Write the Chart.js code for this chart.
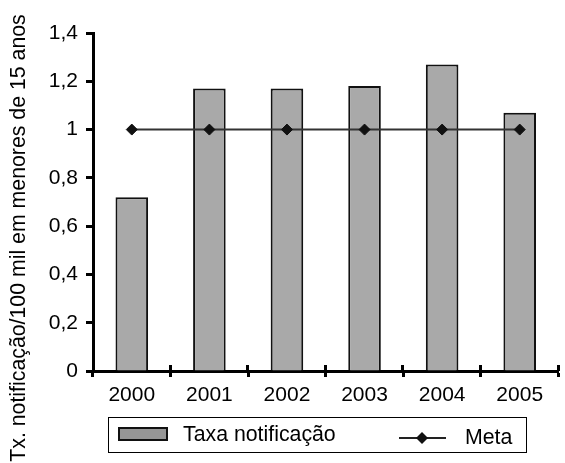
<!DOCTYPE html>
<html>
<head>
<meta charset="utf-8">
<script src="https://cdn.jsdelivr.net/npm/chart.js@4.4.1/dist/chart.umd.min.js"></script>
<style>
  html, body { margin: 0; padding: 0; background: #fff; }
</style>
</head>
<body>
<canvas id="chart" width="565" height="463"></canvas>
<script>
// data
const years = ["2000", "2001", "2002", "2003", "2004", "2005"];
const taxa = [0.72, 1.17, 1.17, 1.18, 1.27, 1.07];
const meta = [1, 1, 1, 1, 1, 1];
const yTicks = [0, 0.2, 0.4, 0.6, 0.8, 1, 1.2, 1.4];
const yTitle = "Tx. notificação/100 mil em menores de 15 anos";

const FONT = "'Liberation Sans', Arial, sans-serif";

// draws the rotated y title, the small ticks that cross the x axis and the boxed legend
const extrasPlugin = {
  id: "extras",
  afterDraw(chart) {
    const ctx = chart.ctx;
    const area = chart.chartArea;

    ctx.save();

    // y title
    ctx.translate(19, 238);
    ctx.rotate(-Math.PI / 2);
    ctx.fillStyle = "#000";
    ctx.font = "21.3px " + FONT;
    ctx.textAlign = "center";
    ctx.textBaseline = "middle";
    ctx.fillText(yTitle, 0, 0);
    ctx.setTransform(1, 0, 0, 1, 0, 0);

    // inner part of x ticks
    const step = (area.right - area.left) / years.length;
    ctx.strokeStyle = "#000";
    ctx.lineWidth = 3;
    for (let i = 1; i <= years.length; i++) {
      const x = Math.round(area.left + i * step) - 0.5;
      ctx.beginPath();
      ctx.moveTo(x, area.bottom);
      ctx.lineTo(x, area.bottom - 6);
      ctx.stroke();
    }

    // legend box
    ctx.lineWidth = 1;
    ctx.strokeRect(108.5, 417.5, 418, 35);

    const ds = chart.data.datasets;
    ctx.fillStyle = "#969696";
    ctx.fillRect(119, 428, 48, 12);
    ctx.lineWidth = 2;
    ctx.strokeStyle = "#111";
    ctx.strokeRect(119, 428, 48, 12);

    ctx.fillStyle = "#000";
    ctx.font = "21.3px " + FONT;
    ctx.textAlign = "left";
    ctx.textBaseline = "middle";
    ctx.fillText(ds[0].label, 183, 435);

    ctx.strokeStyle = "#222";
    ctx.lineWidth = 2;
    ctx.beginPath();
    ctx.moveTo(399, 438);
    ctx.lineTo(446, 438);
    ctx.stroke();
    ctx.fillStyle = "#111";
    ctx.beginPath();
    ctx.moveTo(422, 432);
    ctx.lineTo(428, 438);
    ctx.lineTo(422, 444);
    ctx.lineTo(416, 438);
    ctx.closePath();
    ctx.fill();

    ctx.fillStyle = "#000";
    ctx.fillText(ds[1].label, 465, 438);

    ctx.restore();
  }
};

const ctx = document.getElementById("chart");
new Chart(ctx, {
  data: {
    labels: years,
    datasets: [
      {
        type: "bar",
        label: "Taxa notificação",
        data: taxa,
        backgroundColor: "#a9a9a9",
        borderColor: "#111",
        borderWidth: 2,
        barPercentage: 0.42,
        categoryPercentage: 1,
        order: 2,
      },
      {
        type: "line",
        label: "Meta",
        data: meta,
        borderColor: "#333",
        borderWidth: 2,
        pointStyle: "rectRot",
        pointRadius: 5.5,
        pointBackgroundColor: "#111",
        pointBorderColor: "#111",
        pointBorderWidth: 1,
        order: 1,
      },
    ],
  },
  options: {
    responsive: false,
    animation: false,
    devicePixelRatio: 1,
    layout: { padding: { top: 33, right: 2, bottom: 0, left: 0 } },
    plugins: {
      legend: { display: false },
      tooltip: { enabled: false },
    },
    scales: {
      x: {
        offset: true,
        grid: {
          offset: true,
          drawOnChartArea: false,
          drawTicks: true,
          tickLength: 6,
          tickWidth: 3,
          tickColor: "#000",
        },
        border: { color: "#000", width: 3 },
        ticks: {
          color: "#000",
          font: { family: FONT, size: 21 },
          padding: 6,
          maxRotation: 0,
        },
        afterFit: (scale) => { scale.height = 92; },
      },
      y: {
        min: 0,
        max: 1.4,
        grid: {
          drawOnChartArea: false,
          drawTicks: true,
          tickLength: 7,
          tickWidth: 3,
          tickColor: "#000",
        },
        border: { color: "#000", width: 3 },
        ticks: {
          color: "#000",
          font: { family: FONT, size: 21 },
          padding: 8,
          callback: (v) => String(v).replace(".", ","),
        },
        afterBuildTicks: (scale) => {
          scale.ticks = yTicks.map((v) => ({ value: v }));
        },
        afterFit: (scale) => { scale.width = 93; },
      },
    },
  },
  plugins: [extrasPlugin],
});
</script>
</body>
</html>
